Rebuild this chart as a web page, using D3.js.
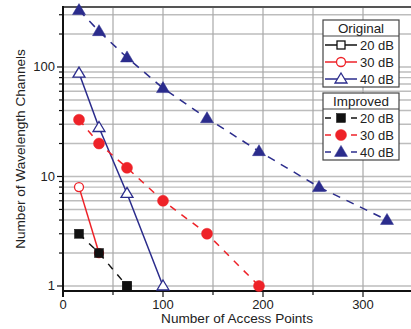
<!DOCTYPE html>
<html>
<head>
<meta charset="utf-8">
<script src="https://cdn.jsdelivr.net/npm/d3@7"></script>
<style>
body { margin: 0; background: #fff; }
svg { display: block; font-family: "Liberation Sans", Arial, sans-serif; }
</style>
</head>
<body>
<svg class="plot" width="411" height="329"></svg>
<script>
// access points (x) per series
var xOrig20 = [64],        yOrig20 = [1];
var xOrig30 = [16, 36],    yOrig30 = [8, 2];
var xOrig40 = [16, 36, 64, 100], yOrig40 = [88, 28, 7, 1];
var xImp20 = [16, 36, 64], yImp20 = [3, 2, 1];
var xImp30 = [16, 36, 64, 100, 144, 196], yImp30 = [33, 20, 12, 6, 3, 1];
var xImp40 = [16, 36, 64, 100, 144, 196, 256, 324], yImp40 = [330, 212, 122, 64, 34, 17, 8, 4];
var xTicks = [0, 100, 200, 300];
var yTicks = [1, 10, 100];

var svg = d3.select(".plot"),
    pl = 63, pr = 411, pt = 7, pb = 291;

var x = d3.scaleLinear().domain([0, 348]).range([pl, pr]);
var y = d3.scaleLog().domain([0.9, 353]).range([pb, pt]);

var navy = "#2b2c8c", red = "#ee2228", black = "#111";

function zip(xs, ys) { return xs.map(function(v, i) { return {x: v, y: ys[i]}; }); }

var series = [
  {name: "20 dB", group: "o", data: zip(xOrig20, yOrig20), color: black, shape: "square", fill: false, dash: null},
  {name: "30 dB", group: "o", data: zip(xOrig30, yOrig30), color: red, shape: "circle", fill: false, dash: null},
  {name: "40 dB", group: "o", data: zip(xOrig40, yOrig40), color: navy, shape: "triangle", fill: false, dash: null},
  {name: "20 dB", group: "i", data: zip(xImp20, yImp20), color: black, shape: "square", fill: true, dash: "7,7"},
  {name: "30 dB", group: "i", data: zip(xImp30, yImp30), color: red, shape: "circle", fill: true, dash: "7,7"},
  {name: "40 dB", group: "i", data: zip(xImp40, yImp40), color: navy, shape: "triangle", fill: true, dash: "8,7"}
];

// grid
var yMinor = [];
[1, 10, 100].forEach(function(d) { for (var k = 1; k < 10; k++) if (d * k <= 353) yMinor.push(d * k); });
var grid = svg.append("g");
grid.selectAll(".hg").data(yMinor).enter().append("line")
    .attr("x1", pl).attr("x2", pr)
    .attr("y1", function(d) { return y(d); }).attr("y2", function(d) { return y(d); })
    .attr("stroke", "#bdbdbd").attr("stroke-width", 1.4);
grid.selectAll(".vg").data(d3.range(50, 348, 50)).enter().append("line")
    .attr("x1", function(d) { return x(d); }).attr("x2", function(d) { return x(d); })
    .attr("y1", pt).attr("y2", pb)
    .attr("stroke", "#a8a8a8").attr("stroke-width", 1.2);

// frame top
svg.append("line").attr("x1", pl).attr("x2", pr).attr("y1", pt).attr("y2", pt)
    .attr("stroke", "#555").attr("stroke-width", 2);

// y axis ticks
var ax = svg.append("g");
ax.selectAll(".yt").data(yMinor).enter().append("line")
    .attr("x1", function(d) { return yTicks.indexOf(d) >= 0 ? pl - 6 : pl - 4; })
    .attr("x2", pl)
    .attr("y1", function(d) { return y(d); }).attr("y2", function(d) { return y(d); })
    .attr("stroke", black).attr("stroke-width", 1.2);
ax.selectAll(".yl").data(yTicks).enter().append("text")
    .attr("x", pl - 8).attr("y", function(d) { return y(d) + 4.5; })
    .attr("text-anchor", "end").attr("font-size", 13).attr("fill", "#222")
    .text(function(d) { return d; });

// x axis ticks
ax.selectAll(".xt").data(d3.range(0, 348, 50)).enter().append("line")
    .attr("x1", function(d) { return x(d); }).attr("x2", function(d) { return x(d); })
    .attr("y1", pb).attr("y2", function(d) { return d % 100 === 0 ? pb + 6 : pb + 4; })
    .attr("stroke", black).attr("stroke-width", 1.2);
ax.selectAll(".xl").data(xTicks).enter().append("text")
    .attr("x", function(d) { return x(d); }).attr("y", pb + 18)
    .attr("text-anchor", "middle").attr("font-size", 13).attr("fill", "#222")
    .text(function(d) { return d; });

svg.append("line").attr("x1", pl).attr("x2", pr).attr("y1", pb).attr("y2", pb)
    .attr("stroke", black).attr("stroke-width", 2);
svg.append("line").attr("x1", pl).attr("x2", pl).attr("y1", pt - 1).attr("y2", pb + 6)
    .attr("stroke", black).attr("stroke-width", 2);

svg.append("text").attr("x", 237).attr("y", 323).attr("text-anchor", "middle")
    .attr("font-size", 13.6).attr("fill", "#222").text("Number of Access Points");
svg.append("text").attr("transform", "translate(25," + ((pt + pb) / 2) + ") rotate(-90)")
    .attr("text-anchor", "middle").attr("font-size", 13.6).attr("fill", "#222")
    .text("Number of Wavelength Channels");

// markers
function marker(g, s, cx, cy) {
  var fill = s.fill ? s.color : "#fff";
  if (s.shape === "square") {
    var h = s.fill ? 4.5 : 4;
    g.append("rect").attr("x", cx - h).attr("y", cy - h).attr("width", 2 * h).attr("height", 2 * h)
      .attr("fill", fill).attr("stroke", s.color).attr("stroke-width", s.fill ? 0.5 : 1.3);
  } else if (s.shape === "circle") {
    g.append("circle").attr("cx", cx).attr("cy", cy).attr("r", s.fill ? 5.5 : 4.5)
      .attr("fill", fill).attr("stroke", s.color).attr("stroke-width", s.fill ? 0.5 : 1.3);
  } else {
    var w = s.fill ? 6.5 : 6, hh = s.fill ? 11 : 10;
    g.append("path")
      .attr("d", "M" + cx + "," + (cy - hh * 0.6) + "L" + (cx + w) + "," + (cy + hh * 0.4) + "L" + (cx - w) + "," + (cy + hh * 0.4) + "Z")
      .attr("fill", fill).attr("stroke", s.color).attr("stroke-width", s.fill ? 0.5 : 1.3);
  }
}

var line = d3.line().x(function(d) { return x(d.x); }).y(function(d) { return y(d.y); });

series.forEach(function(s) {
  var g = svg.append("g");
  g.append("path").datum(s.data).attr("d", line).attr("fill", "none")
    .attr("stroke", s.color).attr("stroke-width", 1.5)
    .attr("stroke-dasharray", s.dash);
  s.data.forEach(function(d) { marker(g, s, x(d.x), y(d.y)); });
});

// legends
function legend(title, group, ly) {
  var items = series.filter(function(s) { return s.group === group; });
  var lx = 323, w = 76, hdr = 16, row = 17;
  var g = svg.append("g");
  g.append("rect").attr("x", lx).attr("y", ly).attr("width", w).attr("height", hdr + row * items.length)
    .attr("fill", "#fff").attr("stroke", "#444").attr("stroke-width", 1.2);
  g.append("line").attr("x1", lx).attr("x2", lx + w).attr("y1", ly + hdr).attr("y2", ly + hdr)
    .attr("stroke", "#444").attr("stroke-width", 1.2);
  g.append("text").attr("x", lx + w / 2).attr("y", ly + 13).attr("text-anchor", "middle")
    .attr("font-size", 13.4).attr("fill", "#222").text(title);
  items.forEach(function(s, i) {
    var cy = ly + hdr + row * i + row / 2 + 0.5;
    if (s.dash) {
      g.append("line").attr("x1", 325).attr("x2", 331).attr("y1", cy).attr("y2", cy).attr("stroke", s.color).attr("stroke-width", 1.5);
      g.append("line").attr("x1", 351).attr("x2", 357).attr("y1", cy).attr("y2", cy).attr("stroke", s.color).attr("stroke-width", 1.5);
    } else {
      g.append("line").attr("x1", 325).attr("x2", 357).attr("y1", cy).attr("y2", cy).attr("stroke", s.color).attr("stroke-width", 1.5);
    }
    marker(g, s, 341, cy);
    g.append("text").attr("x", 360).attr("y", cy + 4.8).attr("font-size", 13).attr("fill", "#222").text(s.name);
  });
}
legend("Original", "o", 20);
legend("Improved", "i", 93);
</script>
</body>
</html>
